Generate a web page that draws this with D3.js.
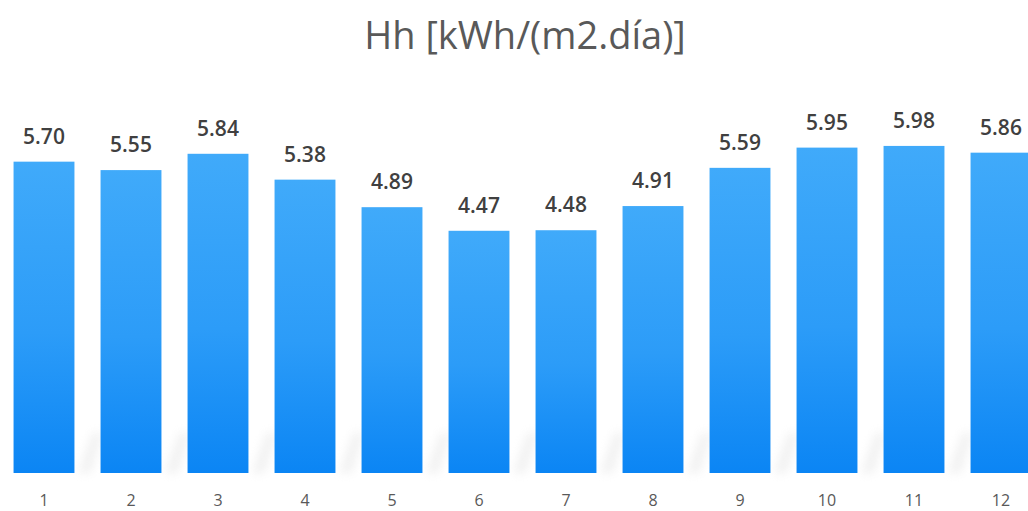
<!DOCTYPE html>
<html>
<head>
<meta charset="utf-8">
<script src="https://cdn.jsdelivr.net/npm/d3@7"></script>
<style>
  html, body { margin: 0; padding: 0; background: #ffffff; overflow: hidden; }
  svg { display: block; }
</style>
</head>
<body>
<svg id="chart" width="1028" height="511"></svg>
<script>
// Monthly daily horizontal irradiation
const months = ["1", "2", "3", "4", "5", "6", "7", "8", "9", "10", "11", "12"];
const values = [5.70, 5.55, 5.84, 5.38, 4.89, 4.47, 4.48, 4.91, 5.59, 5.95, 5.98, 5.86];
const title = "Hh [kWh/(m2.día)]";

const width = 1028, height = 511;
const floorY = 473;

const svg = d3.select("#chart");

const x = d3.scaleBand()
  .domain(months)
  .range([0.5, 1044.5])
  .paddingInner(0.3)
  .paddingOuter(0.15);

const y = d3.scaleLinear()
  .domain([0, 6])
  .range([482, 482 - 6 * 56.2]);

const defs = svg.append("defs");
const grad = defs.append("linearGradient")
  .attr("id", "barGrad")
  .attr("x1", 0).attr("y1", 0).attr("x2", 0).attr("y2", 1);
grad.append("stop").attr("offset", "0%").attr("stop-color", "#40aafa");
grad.append("stop").attr("offset", "55%").attr("stop-color", "#2c9cf8");
grad.append("stop").attr("offset", "100%").attr("stop-color", "#0b85f4");

const blur = defs.append("filter").attr("id", "soft")
  .attr("x", "-50%").attr("y", "-50%").attr("width", "200%").attr("height", "200%");
blur.append("feGaussianBlur").attr("stdDeviation", 5);

// faint reflections in the gaps between bars
svg.append("g")
  .selectAll("path")
  .data(months)
  .join("path")
  .attr("d", d => {
    const x0 = x(d) + x.bandwidth() + 4;
    return `M${x0},${floorY} L${x0 + 14},${floorY - 40} L${x0 + 24},${floorY - 40} L${x0 + 12},${floorY}Z`;
  })
  .attr("fill", "#dcdcdc")
  .attr("opacity", 0.4)
  .attr("filter", "url(#soft)");

svg.append("g")
  .selectAll("rect")
  .data(values)
  .join("rect")
  .attr("x", (d, i) => x(months[i]))
  .attr("y", d => y(d))
  .attr("width", x.bandwidth())
  .attr("height", d => floorY - y(d))
  .attr("fill", "url(#barGrad)");

svg.append("g")
  .selectAll("text")
  .data(values)
  .join("text")
  .attr("x", (d, i) => x(months[i]) + x.bandwidth() / 2)
  .attr("y", d => y(d) - 18)
  .attr("text-anchor", "middle")
  .attr("font-family", "'Open Sans', sans-serif")
  .attr("font-weight", 600)
  .attr("font-size", 21)
  .attr("fill", "#404040")
  .text(d => d.toFixed(2));

// category labels
const xAxis = d3.axisBottom(x).tickSize(0).tickPadding(0);
const gx = svg.append("g")
  .attr("transform", `translate(0, ${floorY + 33})`)
  .call(xAxis);
gx.select(".domain").remove();
gx.selectAll("text")
  .attr("font-family", "'Open Sans', sans-serif")
  .attr("font-size", 16)
  .attr("fill", "#595959")
  .attr("dy", 0);

svg.append("text")
  .attr("x", 525)
  .attr("y", 49)
  .attr("text-anchor", "middle")
  .attr("font-family", "'Open Sans', sans-serif")
  .attr("font-size", 38)
  .attr("fill", "#595959")
  .text(title);
</script>
</body>
</html>
